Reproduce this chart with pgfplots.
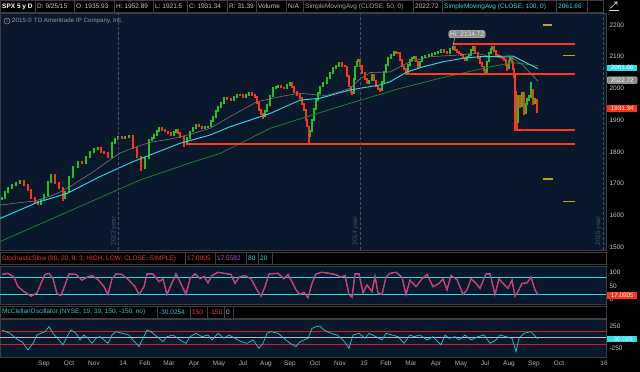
\documentclass[border=0pt]{standalone}
\usepackage{pgfplots}
\pgfplotsset{compat=1.18}
\usepackage{pgfplotstable}
\usepackage{fontspec}
\setmainfont{Liberation Sans}
\definecolor{navy}{RGB}{9,25,43}
\definecolor{fr}{RGB}{58,62,68}
\definecolor{cup}{RGB}{34,190,34}
\definecolor{cdn}{RGB}{255,52,20}
\definecolor{smaA}{RGB}{120,120,120}
\definecolor{smaB}{RGB}{45,220,235}
\definecolor{smaC}{RGB}{35,135,40}
\definecolor{lvl}{RGB}{255,58,30}
\definecolor{gold}{RGB}{200,160,30}
\definecolor{ticktxt}{RGB}{200,200,200}
\definecolor{hdrtxt}{RGB}{200,200,200}
\definecolor{stred}{RGB}{235,50,45}
\definecolor{stpur}{RGB}{170,90,210}
\definecolor{mccyan}{RGB}{30,200,215}
\definecolor{mcred}{RGB}{210,30,30}
\definecolor{yeartxt}{RGB}{70,82,95}
\newcommand{\sm}{\fontsize{6.5}{7}\selectfont}
\newcommand{\hb}[5]{\draw[fr,line width=0.6pt] (#1,#3) rectangle (#2,#3+12);
  \node[anchor=west,text=#5,font=\sm,inner sep=0pt] at (#1+2,#3+6) {#4};}

\pgfplotstableread{
x lo hi
2 1647 1658
5 1652 1675
8 1669 1688
12 1682 1698
16 1692 1706
20 1700 1711
41 1633 1651
44 1645 1667
48 1661 1709
51 1703 1730
65 1652 1677
69 1671 1725
73 1719 1756
78 1750 1772
86 1761 1788
90 1782 1803
94 1797 1811
98 1805 1814
112 1782 1830
115 1824 1843
118 1837 1851
125 1840 1851
129 1845 1853
145 1745 1783
149 1777 1840
152 1834 1848
154 1842 1856
157 1850 1868
159 1862 1877
174 1850 1865
176 1859 1872
187 1822 1848
190 1842 1867
193 1861 1878
196 1872 1888
205 1871 1881
208 1875 1883
211 1877 1901
213 1895 1914
216 1908 1933
218 1927 1945
221 1939 1958
224 1952 1972
234 1961 1975
237 1969 1982
246 1971 1983
249 1977 1988
265 1909 1933
267 1927 1951
270 1945 1978
273 1972 2003
276 1997 2008
278 2002 2011
287 1997 2013
290 2007 2019
310 1847 1868
312 1862 1903
314 1897 1938
316 1932 1967
318 1961 1988
320 1982 2009
323 2003 2021
327 2015 2035
330 2029 2051
333 2045 2066
336 2060 2075
339 2069 2082
354 1982 2033
355 2027 2072
357 2066 2088
358 2082 2093
369 2013 2028
372 2022 2046
382 1992 2023
384 2017 2056
386 2050 2078
388 2072 2098
391 2092 2108
394 2102 2119
408 2050 2078
410 2072 2093
412 2087 2098
414 2092 2103
420 2066 2088
422 2082 2103
425 2097 2105
429 2099 2108
432 2102 2111
435 2105 2114
438 2108 2118
441 2112 2124
450 2108 2128
453 2122 2135
467 2087 2101
469 2095 2108
471 2102 2123
473 2117 2133
487 2050 2088
489 2082 2114
491 2108 2128
492 2122 2133
509 2060 2091
510 2085 2098
518 1892 1980
522 1940 1990
526 1919 1955
527 1947 1969
529 1961 1979
531 1971 2020
535 1950 1969
}\uptab

\pgfplotstableread{
x lo hi
24 1692 1711
28 1677 1698
31 1652 1683
35 1640 1658
38 1633 1646
55 1700 1730
59 1682 1706
63 1646 1688
82 1761 1772
101 1797 1814
104 1794 1803
108 1782 1800
122 1840 1851
133 1808 1853
137 1782 1814
141 1740 1788
162 1867 1877
165 1861 1873
168 1855 1867
171 1850 1861
178 1855 1872
180 1845 1861
184 1815 1851
199 1877 1888
202 1871 1883
227 1963 1972
231 1961 1969
240 1975 1982
243 1971 1981
252 1977 1988
255 1971 1983
257 1952 1977
259 1929 1958
261 1917 1935
263 1905 1923
281 2000 2011
284 1997 2006
292 2002 2019
294 1987 2008
297 1977 1993
300 1966 1983
302 1947 1972
304 1929 1953
306 1897 1935
307 1877 1903
309 1821 1883
342 2069 2082
345 2066 2075
347 2037 2072
349 2003 2043
351 1987 2009
352 1978 1993
360 2067 2093
362 2045 2073
365 2027 2051
367 2013 2033
374 2022 2046
376 2003 2028
378 1995 2009
380 1988 2001
396 2109 2119
398 2108 2115
400 2087 2114
402 2066 2093
404 2057 2072
406 2045 2063
416 2082 2103
418 2060 2088
444 2112 2124
447 2108 2118
455 2119 2135
457 2113 2125
459 2107 2119
461 2102 2113
463 2093 2108
465 2087 2099
475 2109 2133
478 2092 2115
480 2077 2098
482 2066 2083
484 2055 2072
485 2045 2061
494 2115 2133
496 2102 2121
498 2099 2108
500 2097 2105
502 2092 2103
504 2087 2098
506 2072 2093
507 2055 2078
512 2081 2098
513 2057 2087
514 2034 2063
515 1985 2040
516 1948 1993
517 1867 1956
520 1938 1978
524 1915 1988
533 1948 1998
537 1921 1967
}\dntab

\pgfplotstableread{
x y
2 92
8 96
14 82
18 47
24 29
31 12
37 24
41 59
45 92
49 96
53 76
57 21
61 14
65 53
69 94
76 92
82 71
86 80
92 88
98 73
104 47
108 18
112 76
116 94
122 92
129 71
135 47
139 18
144 47
147 94
153 94
159 65
163 76
167 18
171 53
176 94
180 65
186 18
190 76
195 94
200 76
204 85
208 61
212 88
218 100
224 96
231 92
235 59
239 82
245 88
251 76
257 35
261 12
265 47
269 94
278 96
284 76
288 92
292 65
296 35
300 18
304 26
308 6
312 59
316 94
322 100
329 96
335 92
341 82
345 88
349 18
352 8
355 94
359 94
363 24
367 53
372 29
375 85
378 24
382 18
386 82
390 96
396 100
402 82
406 18
410 71
416 47
422 76
427 92
433 47
439 59
443 76
447 35
451 88
457 73
463 18
467 35
471 76
476 59
480 41
486 94
490 94
495 18
499 76
503 59
508 41
512 71
515 12
518 29
522 59
527 61
531 82
535 35
538 17
}\stoch

\pgfplotstableread{
x y
2 172
6 135
10 98
14 22
18 -52
22 -90
28 -278
33 -128
37 60
41 98
45 135
49 248
53 98
59 -52
63 -165
67 22
71 172
76 98
80 -52
84 60
88 -15
92 -128
96 -15
100 22
104 -52
108 -128
112 60
116 135
122 98
129 60
133 -52
139 -202
143 -15
147 172
151 135
157 22
163 -90
167 22
173 60
180 -52
186 -128
190 22
196 98
202 22
208 60
212 -52
218 98
224 -15
229 60
235 -15
241 -90
247 -128
253 -52
259 -240
263 -128
267 98
271 135
278 98
284 -15
290 -128
296 -202
300 -90
304 -52
308 -15
312 210
316 248
320 262
324 172
331 98
337 60
343 -52
349 -240
353 60
359 98
365 -15
369 98
376 22
382 -52
386 98
392 60
398 22
404 -128
410 60
414 22
420 60
427 -52
433 22
441 -165
445 60
449 -15
455 22
459 -52
465 60
471 -52
478 22
484 60
490 -128
496 -52
500 60
506 22
512 -15
516 -315
519 -15
524 98
531 135
534 60
538 -30
}\mcc

\pgfplotsset{panel/.style={scale only axis, width=606pt, xmin=0, xmax=606,
  axis background/.style={fill=navy}, axis line style={draw=fr, line width=0.6pt},
  tick style={draw=none}, xtick=\empty, yticklabel pos=right,
  tick label style={font=\sm, text=ticktxt},
  yticklabel style={anchor=west, xshift=0pt},
  /pgf/number format/assume math mode=true, /pgf/number format/1000 sep={},
  clip=false}}

\begin{document}
\begin{tikzpicture}[x=1pt,y=1pt]
\path[use as bounding box, fill=black] (0,0) rectangle (640,372);

% ---------------- main price panel
\begin{axis}[panel, at={(0pt,359pt)}, anchor=north west, height=237pt,
  ymin=1490.5, ymax=2237.8, ytick={1500,1600,1700,1800,1900,2000,2100,2200}]
\addplot[cdn, line width=1.15pt, quiver={u=0, v=\thisrow{hi}-\thisrow{lo}}] table[x=x, y=lo] {\dntab};
\addplot[cup, line width=1.15pt, quiver={u=0, v=\thisrow{hi}-\thisrow{lo}}] table[x=x, y=lo] {\uptab};
\addplot[smaC, line width=0.7pt] coordinates {(0,1517)(70,1614)(140,1711)(190,1765)(220,1795)(270,1874)(307,1911)(350,1953)(400,2000)(440,2032)(490,2068)(513,2081)(538,2072)};
\addplot[smaA, line width=0.6pt] coordinates {(0,1632)(20,1640)(35,1645)(50,1660)(60,1673)(70,1690)(80,1711)(90,1730)(100,1752)(110,1775)(120,1796)(133,1812)(150,1830)(170,1840)(190,1855)(210,1874)(230,1911)(257,1958)(280,1974)(300,1985)(315,1980)(327,1978)(340,1990)(350,2000)(360,2030)(370,2050)(390,2052)(410,2084)(430,2100)(457,2105)(477,2111)(490,2100)(513,2095)(523,2073)(538,2023)};
\addplot[smaB, line width=0.9pt] coordinates {(0,1590)(37,1640)(67,1669)(100,1722)(133,1769)(150,1790)(180,1827)(210,1853)(230,1879)(250,1900)(270,1921)(300,1963)(320,1969)(350,1995)(380,2011)(390,2021)(407,2052)(423,2068)(443,2084)(463,2095)(480,2100)(513,2102)(538,2062)};
% drawn levels
\addplot[lvl, line width=1.2pt] coordinates {(453,2140)(575,2140)};
\addplot[lvl, line width=1.2pt] coordinates {(405,2045.5)(575,2045.5)};
\addplot[lvl, line width=1.2pt] coordinates {(186,1825)(575,1825)};
\addplot[lvl, line width=1.2pt] coordinates {(515,2045.5)(515,1869)(575,1869)};
\addplot[gold, line width=1.5pt] coordinates {(543,2200)(552,2200)};
\addplot[gold, line width=1.5pt] coordinates {(563,2103)(575,2103)};
\addplot[gold, line width=1.5pt] coordinates {(543,1714)(553,1714)};
\addplot[gold, line width=1.5pt] coordinates {(563,1643)(575,1643)};
% Hi bubble
\draw[white!75!black, line width=0.5pt] (axis cs:455,2162) -- (axis cs:453,2136);
\node[fill=white!55!black, draw=white!85!black, rounded corners=2pt, inner sep=1.2pt,
  font=\sm, text=white!92!black] at (axis cs:467,2171) {Hi: 2134.72};
% value boxes
\node[fill=smaB, text=white, anchor=west, inner sep=1pt, font=\fontsize{6.3}{7}\selectfont, minimum width=30pt] at (axis cs:607,2065) {2061.66};
\node[fill=white!55!black, draw=white!80!black, rounded corners=1pt, text=white, anchor=west, inner sep=1pt, font=\fontsize{6.3}{7}\selectfont, minimum width=30pt] at (axis cs:607,2026) {2022.72};
\node[fill=cdn, text=white, anchor=west, inner sep=1pt, font=\fontsize{6.3}{7}\selectfont, minimum width=30pt] at (axis cs:607,1936) {1931.34};
\end{axis}

% ---------------- stochastic panel
\begin{axis}[panel, at={(0pt,106pt)}, anchor=north west, height=38pt,
  ymin=-16.8, ymax=123, ytick={0,50,100}]
\addplot[smaB, line width=0.8pt] coordinates {(0,80)(606,80)};
\addplot[smaB, line width=0.8pt] coordinates {(0,20)(606,20)};
\addplot[stpur, line width=1.3pt] table[x=x,y=y] {\stoch};
\addplot[stred, line width=0.6pt] table[x=x,y=y] {\stoch};
\node[fill=cdn, text=white, anchor=west, inner sep=1pt, font=\fontsize{6.3}{7}\selectfont, minimum width=30pt] at (axis cs:607,15) {17.0905};
\end{axis}

% ---------------- McClellan panel
\begin{axis}[panel, at={(0pt,53pt)}, anchor=north west, height=38pt,
  ymin=-436.5, ymax=420.7, ytick={-250,250},
  xtick={44,69,94,123,145,169,194,219,243,266,290,315,340,364,386,411,436,461,485,509,534,559,604},
  xticklabels={Sep,Oct,Nov,14,Feb,Mar,Apr,May,Jul,Aug,Sep,Oct,Nov,15,Feb,Mar,Apr,May,Jul,Aug,Sep,Oct,16},
  xticklabel style={text=white!70!black}]
\addplot[white!72!black, line width=1.5pt] coordinates {(0,0)(606,0)};
\addplot[mcred, line width=0.8pt] coordinates {(0,150)(606,150)};
\addplot[mcred, line width=0.8pt] coordinates {(0,-150)(606,-150)};
\addplot[mccyan, line width=0.7pt] table[x=x,y=y] {\mcc};
\node[fill=smaB, text=white, anchor=west, inner sep=1pt, font=\fontsize{6.3}{7}\selectfont, minimum width=30pt] at (axis cs:607,-30) {-30.025};
\end{axis}

% ---------------- year separators
\foreach \xx/\lab in {118.4/2013, 360/2014, 603/2015}{
  \draw[yeartxt, line width=0.5pt, dash pattern=on 3pt off 2pt] (\xx,122) -- (\xx,359);
  \node[rotate=90, anchor=south west, inner sep=0.5pt, font=\sm, text=yeartxt] at (\xx-0.8,126) {\lab\ year};
}
% copyright
\draw[white!60!black, line width=0.5pt] (7,351) circle (3pt);
\node[font=\fontsize{4.5}{5}\selectfont\bfseries, text=white!60!black, inner sep=0pt] at (7,351) {!};
\node[anchor=west, font=\fontsize{6.2}{7}\selectfont, text=white!60!black, inner sep=0pt] at (12,351) {2015 © TD Ameritrade IP Company, Inc.};

% ---------------- top header
\draw[fr, line width=0.6pt] (0,359.5) rectangle (603,371.5);
\draw[fr, line width=0.6pt] (0,359.5) rectangle (35,371.5);
\node[anchor=west, text=white, font=\sm\bfseries, inner sep=0pt] at (2,365.5) {SPX 5 y D};
\hb{35}{74}{359.5}{D: 9/25/15}{hdrtxt}
\hb{74}{114}{359.5}{O: 1935.93}{hdrtxt}
\hb{114}{153}{359.5}{H: 1952.89}{hdrtxt}
\hb{153}{187}{359.5}{L: 1921.5}{hdrtxt}
\hb{187}{227}{359.5}{C: 1931.34}{hdrtxt}
\hb{227}{256}{359.5}{R: 31.39}{hdrtxt}
\hb{256}{286}{359.5}{Volume}{hdrtxt}
\hb{286}{303}{359.5}{N/A}{hdrtxt}
\hb{303}{413}{359.5}{SimpleMovingAvg (CLOSE, 50, 0)}{white!65!black}
\hb{413}{442}{359.5}{2022.72}{hdrtxt}
\hb{442}{556}{359.5}{SimpleMovingAvg (CLOSE, 100, 0)}{smaB}
\hb{556}{587}{359.5}{2061.66}{smaB}
% zoom icon
\draw[white!85!black, line width=0.6pt] (609,361.5) -- (619,361.5);
\draw[white!85!black, line width=0.6pt] (610,363.5) -- (617,370) (613.5,370) -- (617,370) -- (617,366.5);

% ---------------- stochastic header
\draw[fr, line width=0.6pt] (0,107.5) rectangle (606,119.5);
\hb{0}{185}{107.5}{StochasticSlow (80, 20, 8, 3, HIGH, LOW, CLOSE, SIMPLE)}{stred}
\hb{185}{215}{107.5}{17.0905}{stred}
\hb{215}{246}{107.5}{17.5582}{stpur}
\hb{246}{258}{107.5}{80}{smaB}
\hb{258}{272}{107.5}{20}{smaB}

% ---------------- McClellan header
\draw[fr, line width=0.6pt] (0,54) rectangle (606,66);
\hb{0}{157}{54}{McClellanOscillator (NYSE, 19, 39, 150, -150, no)}{mccyan}
\hb{157}{190}{54}{-30.0254}{mccyan}
\hb{190}{207}{54}{150}{stred}
\hb{207}{224}{54}{-150}{stred}
\hb{224}{233}{54}{0}{white!75!black}
\end{tikzpicture}
\end{document}
